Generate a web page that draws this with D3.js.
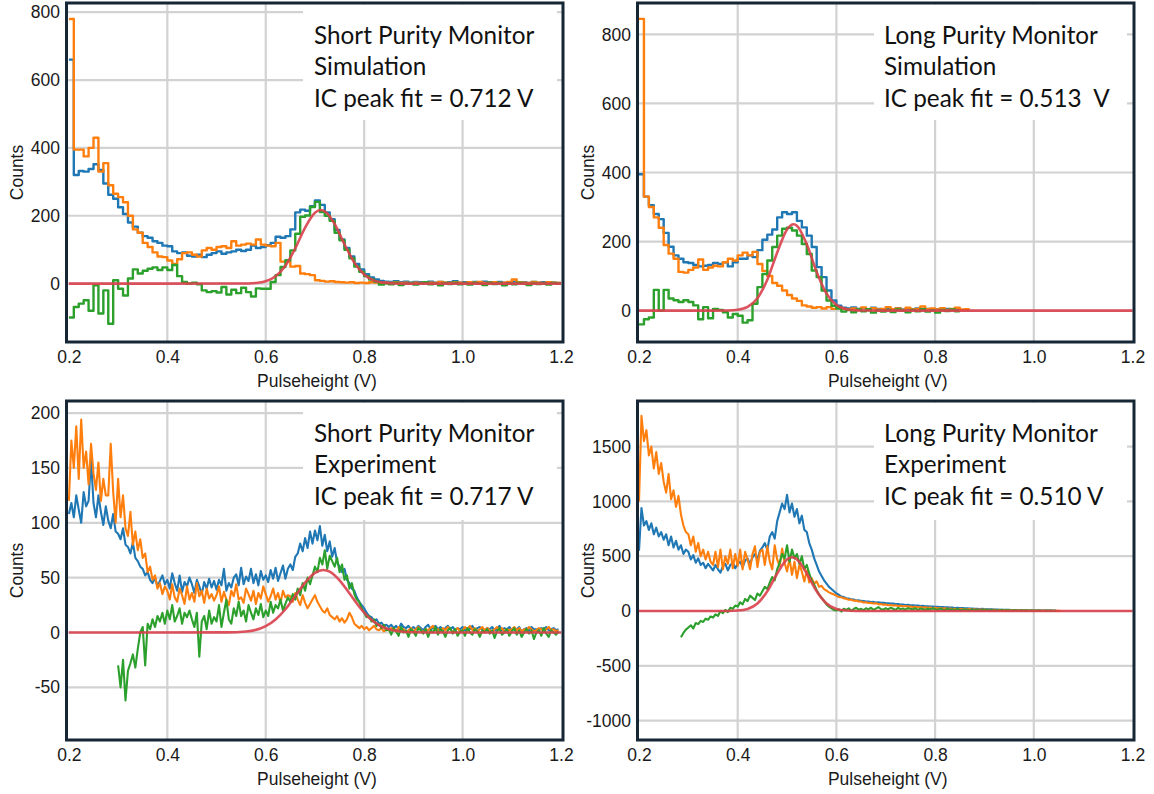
<!DOCTYPE html>
<html><head><meta charset="utf-8">
<script src="https://cdn.jsdelivr.net/npm/d3@7"></script>
<style>body{margin:0;background:#fff}svg{display:block}</style>
</head><body><svg id="c" width="1154" height="794"></svg>
<script>
// ---------- shared axis data ----------
const xTicks = [0.2, 0.4, 0.6, 0.8, 1.0, 1.2];
const xTickLabels = ["0.2", "0.4", "0.6", "0.8", "1.0", "1.2"];
const xGridValues = [0.4, 0.6, 0.8, 1.0];
const simBinStart = 0.2, simBinWidth = 0.01;
const expBinStart = 0.2, expBinWidth = 0.005;

// ---------- Short Purity Monitor, simulation (0.01 V bins) ----------
const shortSimYTicks = [0, 200, 400, 600, 800];
const shortSimBlue = [660,320,332,330,338,352,335,295,262,250,
 225,205,180,168,150,140,135,125,120,112,
 110,95,90,92,82,80,85,78,85,90,
 95,88,92,95,100,96,100,112,105,108,
 113,120,138,135,140,160,210,218,215,228,
 245,232,210,190,158,130,105,80,58,42,
 28,18,12,8,6,5,7,4,6,3,
 5,4,2,6,3,5,2,4,7,3,
 4,2,5,3,6,4,2,5,3,4,
 6,3,4,2,5,3,4,2,3,2];
const shortSimOrange = [780,395,395,375,400,430,330,355,290,265,
 255,240,200,160,150,120,108,92,80,78,
 68,58,72,90,92,85,80,98,105,100,
 108,110,105,125,112,115,118,115,130,115,
 112,110,120,65,65,50,52,30,28,25,
 10,8,6,7,5,4,3,4,2,3,
 2,4,3,1,3,2,4,2,3,1,
 3,2,4,3,2,5,3,2,4,3,
 2,4,3,5,2,3,4,2,3,5,
 12,4,3,2,5,3,2,4,3,2];
const shortSimGreen = [-100,-69,-59,-49,-80,-5,-88,-20,-118,10,
 -15,-35,15,42,30,38,44,48,40,48,
 40,55,22,5,0,3,-2,-20,-25,-22,
 -26,-10,-32,-18,-28,-12,-25,-38,-14,-15,
 -15,5,25,49,69,98,147,197,201,226,
 241,211,200,185,150,128,100,75,50,35,
 22,12,6,-3,1,-2,3,-4,0,2,
 -3,1,4,-2,0,-5,2,-1,3,-2,
 1,-3,2,0,-4,3,-1,2,-5,1,
 -2,3,0,-4,2,-1,1,-3,2,0];
const shortSimFitX = [0.2,0.55,0.58,0.60,0.62,0.64,0.66,0.68,0.70,0.712,0.72,0.74,0.76,0.78,0.80,0.82,0.84,0.86,0.90,1.2];
const shortSimFitY = [0,0.2,2,7,22,53,104,165,209,217,213,176,116,62,27,9,3,0.6,0,0];

// ---------- Long Purity Monitor, simulation (0.01 V bins) ----------
const longSimYTicks = [0, 200, 400, 600, 800];
const longSimBlue = [395,330,305,280,265,225,185,160,150,140,
 138,132,128,130,132,138,135,140,128,140,
 150,150,160,155,175,205,220,235,270,285,
 280,285,260,241,217,184,126,97,58,29,
 14,8,6,9,5,7,4,8,5,3,
 6,4,7,3,5,4,6,3,5,2,
 4,3,5,2,4,null,null,null,null,null,
 null,null,null,null,null,null,null,null,null,null,
 null,null,null,null,null,null,null,null,null,null,
 null,null,null,null,null,null,null,null,null,null];
const longSimOrange = [845,330,300,270,240,190,165,150,112,110,
 118,125,148,118,125,130,128,140,150,145,
 160,168,160,170,135,115,100,80,72,58,
 45,35,28,15,12,8,10,6,10,5,
 8,5,3,6,2,9,4,7,3,5,
 10,4,6,2,8,3,5,12,4,6,
 3,7,2,5,8,3,4,null,null,null,
 null,null,null,null,null,null,null,null,null,null,
 null,null,null,null,null,null,null,null,null,null,
 null,null,null,null,null,null,null,null,null,null];
const longSimGreen = [-40,-25,-20,60,0,60,35,30,25,30,
 25,15,-25,10,-22,5,2,-5,-20,-10,
 -15,-35,-28,20,68,106,145,184,217,237,
 240,232,217,193,164,116,97,58,29,14,
 6,-3,2,-5,3,-2,4,-6,1,-3,
 2,-4,3,0,-5,2,-2,4,-3,1,
 -6,2,-1,3,-2,null,null,null,null,null,
 null,null,null,null,null,null,null,null,null,null,
 null,null,null,null,null,null,null,null,null,null,
 null,null,null,null,null,null,null,null,null,null];
const longSimFitX = [0.2,0.35,0.38,0.40,0.42,0.44,0.46,0.48,0.50,0.513,0.52,0.54,0.56,0.58,0.60,0.62,0.64,0.66,0.70,1.2];
const longSimFitY = [0,0,0.4,2.4,10.6,35.7,89.6,168,235,250,246,192,112,49,16,4,0.7,0.1,0,0];

// ---------- Short Purity Monitor, experiment (0.005 V bins) ----------
const shortExpYTicks = [-50, 0, 50, 100, 150, 200];
const shortExpBlue = [108,118,105,125,112,100,128,115,120,158,
 118,105,125,110,98,115,102,95,108,92,
 90,85,95,80,78,72,82,68,65,60,
 58,52,55,48,45,50,42,47,52,44,
 48,40,54,45,38,52,37,46,42,50,
 44,36,48,42,35,46,40,49,41,47,
 39,48,43,58,38,45,41,50,53,43,
 59,44,51,47,58,45,53,43,56,48,
 52,46,57,49,59,47,54,61,49,58,
 62,57,69,72,81,74,86,77,92,81,
 93,84,97,79,89,74,83,69,77,64,
 60,55,58,48,45,40,38,32,28,25,
 22,18,15,14,10,12,8,9,6,7,
 5,7,4,6,3,8,5,4,6,3,
 5,3,6,4,2,5,7,3,4,6,
 3,5,2,4,6,3,5,2,4,3,
 5,2,4,3,6,2,4,5,3,2,
 4,3,5,2,3,6,2,4,3,5,
 2,4,3,5,1,3,4,2,5,3,
 3,2,4,3,5,2,3,4,2,3];
const shortExpOrange = [120,175,150,188,140,194,150,165,135,172,
 145,130,155,120,140,125,125,172,128,100,
 140,105,125,95,88,110,80,92,75,85,
 68,72,55,60,48,52,40,45,35,42,
 38,30,44,32,28,40,34,26,42,30,
 36,28,45,33,38,27,40,31,35,29,
 34,42,28,37,30,25,38,33,44,30,
 32,27,40,35,29,38,26,36,31,42,
 35,28,33,40,30,36,27,38,32,34,
 33,28,36,30,25,34,27,22,26,30,
 34,28,24,20,18,22,16,14,12,15,
 10,13,9,12,18,14,8,6,4,6,
 3,5,2,4,6,3,2,4,1,3,
 2,4,3,1,5,2,3,0,2,4,
 1,3,5,2,0,3,2,4,6,2,
 3,1,4,2,5,3,0,2,4,1,
 2,5,3,6,2,4,1,3,5,2,
 4,2,0,3,5,2,4,1,3,2,
 3,5,2,4,1,3,2,5,3,1,
 2,4,3,1,3,5,2,3,1,2];
const shortExpGreen = [null,null,null,null,null,null,null,null,null,null,
 null,null,null,null,null,null,null,null,null,null,
 -30,-50,-25,-62,-35,-28,-20,-32,-15,0,
 5,-30,8,3,12,5,15,10,18,8,
 20,12,25,10,15,22,8,18,14,20,
 12,5,18,-22,10,15,3,20,8,14,
 10,25,5,18,30,12,8,22,15,28,
 15,20,10,25,18,12,22,16,26,14,
 20,15,28,18,25,22,30,20,26,32,
 28,35,30,40,34,45,38,50,44,52,
 60,55,68,62,75,58,70,65,60,68,
 55,62,48,52,40,45,35,30,28,22,
 18,14,15,10,12,6,8,4,7,2,
 3,-2,4,1,-3,5,0,2,-4,3,
 1,-3,4,2,-1,3,-4,2,0,5,
 -2,3,1,-4,2,4,-1,3,-3,1,
 2,-3,4,0,-2,3,1,-4,2,0,
 3,-1,2,-5,1,4,-2,0,3,-3,
 1,4,-2,2,-4,0,3,-1,2,-6,
 0,2,-3,4,-1,-4,2,0,-2,1];
const shortExpFitX = [0.2,0.52,0.56,0.60,0.62,0.64,0.66,0.68,0.70,0.717,0.73,0.75,0.77,0.79,0.81,0.83,0.85,0.87,0.90,0.95,1.2];
const shortExpFitY = [0,0.1,0.9,5.8,11.9,21.2,33.2,45.4,54.3,57,55.4,47.5,35.7,23.5,13.5,6.8,3,1.2,0.2,0,0];

// ---------- Long Purity Monitor, experiment (0.005 V bins) ----------
const longExpYTicks = [-1000, -500, 0, 500, 1000, 1500];
const longExpBlue = [550,940,780,820,740,800,700,760,680,720,
 650,700,600,680,580,640,560,600,520,560,
 540,470,510,440,480,420,440,390,430,400,
 370,420,380,350,410,430,370,420,440,390,
 430,450,400,460,480,430,490,520,470,550,
 580,620,560,680,720,660,820,900,980,930,
 1060,900,980,860,930,800,870,740,720,620,
 560,480,420,360,320,280,250,220,200,180,
 160,148,132,127,116,114,106,104,96,97,
 92,91,86,87,82,83,78,79,74,75,
 72,70,67,67,63,63,59,59,55,56,
 53,52,49,50,46,47,44,44,41,41,
 39,38,35,36,33,34,31,31,28,29,
 27,26,24,25,22,23,20,21,18,19,
 17,16,15,15,13,14,12,12,10,11,
 10,9,9,8,7,8,6,7,5,6,
 5,5,4,4,3,4,3,3,2,2,
 null,null,null,null,null,null,null,null,null,null,
 null,null,null,null,null,null,null,null,null,null,
 null,null,null,null,null,null,null,null,null,null];
const longExpOrange = [1000,1780,1550,1650,1420,1500,1300,1450,1250,1350,
 1180,1080,1250,1020,1100,950,1050,880,780,720,
 700,600,680,540,620,500,560,470,540,450,
 420,540,400,560,380,500,430,560,390,520,
 410,560,380,540,470,380,520,590,400,540,
 560,420,590,450,380,600,470,410,570,440,
 360,480,330,450,300,420,360,270,370,260,
 300,250,270,220,230,200,185,170,160,150,
 140,128,126,115,112,102,104,93,95,86,
 87,78,80,73,74,68,70,63,64,58,
 60,53,55,50,52,46,48,43,45,40,
 42,36,39,34,37,31,34,29,32,26,
 29,24,27,22,25,20,23,18,21,16,
 20,15,18,13,17,12,15,11,14,10,
 13,9,12,8,11,7,10,6,9,6,
 8,5,7,4,6,4,5,3,5,2,
 4,2,3,2,3,1,2,1,2,1,
 1,0,null,null,null,null,null,null,null,null,
 null,null,null,null,null,null,null,null,null,null,
 null,null,null,null,null,null,null,null,null,null];
const longExpGreen = [null,null,null,null,null,null,null,null,null,null,
 null,null,null,null,null,null,null,-240,-200,-170,
 -150,-130,-160,-110,-120,-90,-100,-70,-80,-50,
 -60,-30,-45,0,-20,10,-10,30,20,50,
 40,80,60,110,90,140,120,100,160,140,
 180,220,200,260,310,280,380,440,520,480,
 600,450,560,480,520,430,500,380,420,340,
 280,240,190,150,120,90,60,40,25,10,
 5,15,-5,20,10,25,0,18,30,12,
 20,8,25,15,30,10,22,35,18,12,
 25,15,30,20,10,28,18,22,12,26,
 20,15,25,10,22,18,12,20,15,24,
 18,10,22,14,8,20,12,16,10,18,
 12,8,15,10,6,14,9,12,5,10,
 8,12,6,10,4,9,7,11,5,8,
 6,3,8,5,2,7,4,6,1,5,
 4,2,6,3,0,5,2,4,1,3,
 null,null,null,null,null,null,null,null,null,null,
 null,null,null,null,null,null,null,null,null,null,
 null,null,null,null,null,null,null,null,null,null];
const longExpFitX = [0.2,0.35,0.38,0.40,0.42,0.44,0.46,0.48,0.50,0.51,0.52,0.54,0.56,0.58,0.60,0.62,0.64,0.67,1.2];
const longExpFitY = [0,0,0.6,3.9,19,69,180,342,471,490,471,342,180,69,19,3.9,0.6,0,0];

// ---------- annotation texts ----------
const shortSimText = ["Short Purity Monitor", "Simulation", "IC peak fit = 0.712 V"];
const longSimText = ["Long Purity Monitor", "Simulation", "IC peak fit = 0.513  V"];
const shortExpText = ["Short Purity Monitor", "Experiment", "IC peak fit = 0.717 V"];
const longExpText = ["Long Purity Monitor", "Experiment", "IC peak fit = 0.510 V"];

const COLORS = {blue: "#1f77b4", orange: "#ff7f0e", green: "#2ca02c", fit: "#d9404c"};

// ---------- panels (layout) ----------
const panels = [
  {fx0: 66.5, fx1: 563, fy0: 3, fy1: 342, xr: [68.9, 561], yd: [-172, 827], yTicks: shortSimYTicks,
   kind: "sim", blue: shortSimBlue, orange: shortSimOrange, green: shortSimGreen, fitX: shortSimFitX, fitY: shortSimFitY,
   text: shortSimText, tx: 314, ty: 43.5, box: [303, 557, 120]},
  {fx0: 637.5, fx1: 1134, fy0: 3, fy1: 342, xr: [639, 1132.5], yd: [-91, 891], yTicks: longSimYTicks,
   kind: "sim", blue: longSimBlue, orange: longSimOrange, green: longSimGreen, fitX: longSimFitX, fitY: longSimFitY,
   text: longSimText, tx: 884, ty: 43.5, box: [874, 1127, 120]},
  {fx0: 66.5, fx1: 563, fy0: 401, fy1: 740, xr: [68.9, 561], yd: [-98, 211], yTicks: shortExpYTicks,
   kind: "exp", blue: shortExpBlue, orange: shortExpOrange, green: shortExpGreen, fitX: shortExpFitX, fitY: shortExpFitY,
   text: shortExpText, tx: 314, ty: 441.7, box: [303, 557, 520]},
  {fx0: 637.5, fx1: 1134, fy0: 401, fy1: 740, xr: [639, 1132.5], yd: [-1177, 1916], yTicks: longExpYTicks,
   kind: "exp", blue: longExpBlue, orange: longExpOrange, green: longExpGreen, fitX: longExpFitX, fitY: longExpFitY,
   text: longExpText, tx: 884, ty: 441.7, box: [874, 1127, 520]}
];

const svg = d3.select("#c");
const defs = svg.append("defs");
const AX_FONT = "'Liberation Sans', Arial, sans-serif";

function stepSegments(vals, start, w) {
  const segs = []; let cur = null;
  vals.forEach((v, i) => {
    if (v == null) {
      if (cur) { cur.push([start + w * i, cur[cur.length - 1][1]]); segs.push(cur); cur = null; }
      return;
    }
    if (!cur) cur = [];
    cur.push([start + w * i, v]);
  });
  if (cur) { cur.push([start + w * vals.length, cur[cur.length - 1][1]]); segs.push(cur); }
  return segs;
}

panels.forEach((p, pi) => {
  const x = d3.scaleLinear().domain([0.2, 1.2]).range(p.xr);
  const y = d3.scaleLinear().domain(p.yd).range([p.fy1, p.fy0]);
  const g = svg.append("g");

  defs.append("clipPath").attr("id", "clip" + pi).append("rect")
    .attr("x", p.fx0).attr("y", p.fy0).attr("width", p.fx1 - p.fx0).attr("height", p.fy1 - p.fy0);

  // grid
  const grid = g.append("g").attr("stroke", "#d2d2d2").attr("stroke-width", 2.2);
  p.yTicks.forEach(t => {
    grid.append("line").attr("x1", p.fx0).attr("x2", p.fx1).attr("y1", y(t)).attr("y2", y(t));
  });
  xGridValues.forEach(t => {
    grid.append("line").attr("x1", x(t)).attr("x2", x(t)).attr("y1", p.fy0).attr("y2", p.fy1);
  });
  // white box behind annotation
  g.append("rect").attr("x", p.box[0]).attr("y", p.fy0 + 1.5).attr("width", p.box[1] - p.box[0])
    .attr("height", p.box[2] - p.fy0 - 1.5).attr("fill", "#fff");

  const plot = g.append("g").attr("clip-path", "url(#clip" + pi + ")");
  const stepLine = d3.line().x(d => x(d[0])).y(d => y(d[1])).curve(d3.curveStepAfter);
  const expLine = d3.line().defined(d => d[1] != null).x(d => x(d[0])).y(d => y(d[1]));

  ["blue", "orange", "green"].forEach(key => {
    const vals = p[key];
    if (p.kind === "sim") {
      stepSegments(vals, simBinStart, simBinWidth).forEach(seg => {
        plot.append("path").attr("d", stepLine(seg)).attr("fill", "none")
          .attr("stroke", COLORS[key]).attr("stroke-width", 2.4).attr("stroke-linejoin", "round");
      });
    } else {
      const pts = vals.map((v, i) => [expBinStart + expBinWidth * i, v]);
      plot.append("path").attr("d", expLine(pts)).attr("fill", "none")
        .attr("stroke", COLORS[key]).attr("stroke-width", 2.1).attr("stroke-linejoin", "round");
    }
  });
  const fitLine = d3.line().x(d => x(d[0])).y(d => y(d[1])).curve(d3.curveMonotoneX);
  plot.append("path").attr("d", fitLine(p.fitX.map((v, i) => [v, p.fitY[i]])))
    .attr("fill", "none").attr("stroke", COLORS.fit).attr("stroke-width", 2.6).attr("stroke-opacity", 0.9);

  // frame
  g.append("rect").attr("x", p.fx0).attr("y", p.fy0).attr("width", p.fx1 - p.fx0).attr("height", p.fy1 - p.fy0)
    .attr("fill", "none").attr("stroke", "#172634").attr("stroke-width", 3);

  // axes labels
  const yAxis = d3.axisLeft(y).tickValues(p.yTicks).tickFormat(d => String(d)).tickSize(0).tickPadding(6);
  const ya = g.append("g").attr("transform", `translate(${p.fx0 - 0.5},0)`).call(yAxis);
  ya.select(".domain").remove();
  ya.selectAll("text").attr("font-family", AX_FONT).attr("font-size", 17.5).attr("fill", "#1a1a1a");

  const xAxis = d3.axisBottom(x).tickValues(xTicks).tickFormat((d, i) => xTickLabels[i]).tickSize(0).tickPadding(9);
  const xa = g.append("g").attr("transform", `translate(0,${p.fy1})`).call(xAxis);
  xa.select(".domain").remove();
  xa.selectAll("text").attr("font-family", AX_FONT).attr("font-size", 17.5).attr("fill", "#1a1a1a");

  g.append("text").attr("x", (p.xr[0] + p.xr[1]) / 2 + 2).attr("y", p.fy1 + 45)
    .attr("text-anchor", "middle").attr("font-family", AX_FONT).attr("font-size", 17.5).attr("fill", "#1a1a1a")
    .text("Pulseheight (V)");
  g.append("text").attr("transform", `translate(${p.fx0 - 44},${(p.fy0 + p.fy1) / 2}) rotate(-90)`)
    .attr("text-anchor", "middle").attr("font-family", AX_FONT).attr("font-size", 17.5).attr("fill", "#1a1a1a")
    .text("Counts");

  // annotation
  p.text.forEach((t, i) => {
    g.append("text").attr("x", p.tx).attr("y", p.ty + i * 31.5)
      .attr("font-family", "Lato, 'Open Sans', sans-serif").attr("font-size", 24.3).attr("fill", "#111")
      .style("white-space", "pre").text(t);
  });
});
</script>
</body></html>
